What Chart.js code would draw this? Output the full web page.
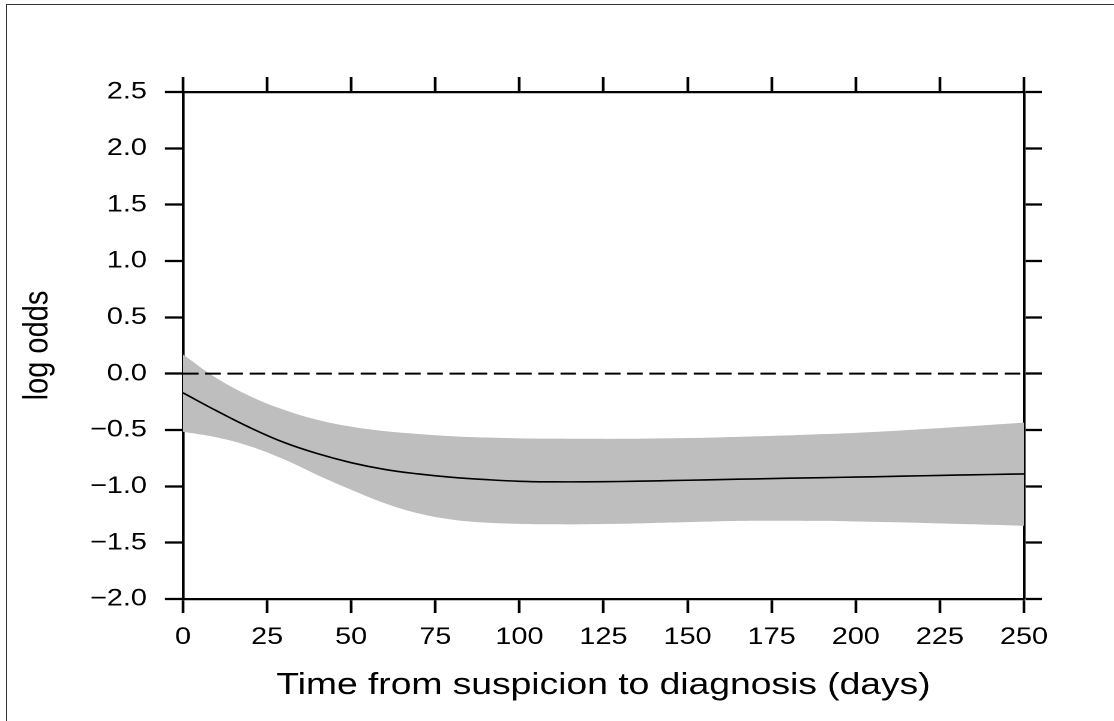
<!DOCTYPE html>
<html>
<head>
<meta charset="utf-8">
<script src="https://cdn.jsdelivr.net/npm/chart.js@4.4.1/dist/chart.umd.min.js"></script>
<style>
  html, body { margin: 0; padding: 0; background: #fff; overflow: hidden; }
  #wrap { position: absolute; left: 0; top: 0; width: 928px; height: 721px;
          transform: scaleX(1.20043); transform-origin: 0 0; }
  #frame { position: absolute; left: 6px; top: 4px; width: 1107px; height: 730px;
           border-top: 1px solid #333; border-left: 1px solid #333; }
</style>
</head>
<body>
<div id="wrap"><canvas id="chart" width="928" height="721"></canvas></div>
<div id="frame"></div>
<script>
// valores, cada 10 dias
const dias = [0, 10, 20, 30, 40, 50, 60, 70, 80, 90, 100, 110, 120, 130, 140, 150, 160, 170, 180, 190, 200, 210, 220, 230, 240, 250];
const ajuste = [-0.17, -0.33, -0.48, -0.61, -0.71, -0.79, -0.85, -0.89, -0.92, -0.94, -0.955, -0.96, -0.96, -0.957, -0.952, -0.946, -0.94, -0.934, -0.928, -0.923, -0.918, -0.912, -0.906, -0.90, -0.895, -0.89];
const superior = [0.17, -0.04, -0.20, -0.32, -0.41, -0.47, -0.51, -0.535, -0.555, -0.567, -0.574, -0.577, -0.578, -0.578, -0.575, -0.571, -0.565, -0.557, -0.548, -0.537, -0.525, -0.51, -0.492, -0.473, -0.454, -0.435];
const inferior = [-0.515, -0.565, -0.645, -0.76, -0.90, -1.03, -1.15, -1.24, -1.295, -1.322, -1.333, -1.337, -1.336, -1.332, -1.325, -1.318, -1.31, -1.306, -1.305, -1.307, -1.312, -1.318, -1.325, -1.333, -1.341, -1.35];
const refX = [0, 250];
const refY = [0, 0];
const xTicks = [0, 25, 50, 75, 100, 125, 150, 175, 200, 225, 250];
const yTicks = [-2.0, -1.5, -1.0, -0.5, 0.0, 0.5, 1.0, 1.5, 2.0, 2.5];

const F = "'Liberation Sans', Arial, sans-serif";
const pts = (xs, ys) => xs.map((x, i) => ({ x: x, y: ys[i] }));
const negro = '#000';

// ejes con marcas hacia afuera en los cuatro lados
const marcas = (len, extra) => Object.assign({
  type: 'linear', z: 1,
  grid: { drawOnChartArea: false, drawTicks: true, tickLength: len, tickWidth: 2.3, tickColor: negro },
  border: { display: true, color: negro, width: 2.3 }
}, extra);

new Chart(document.getElementById('chart'), {
  type: 'line',
  data: {
    datasets: [
      { data: pts(dias, ajuste), order: 0, borderColor: negro, borderWidth: 1.6,
        pointRadius: 0, tension: 0.4, fill: false },
      { data: pts(refX, refY), order: 1, borderColor: negro, borderWidth: 2,
        borderDash: [13, 5.5], pointRadius: 0, fill: false },
      { data: pts(dias, superior), order: 2, borderColor: 'rgba(0,0,0,0)', borderWidth: 0,
        backgroundColor: '#bebebe', pointRadius: 0, tension: 0.4, fill: '+1' },
      { data: pts(dias, inferior), order: 3, borderColor: 'rgba(0,0,0,0)', borderWidth: 0,
        pointRadius: 0, tension: 0.4, fill: false }
    ]
  },
  options: {
    responsive: false,
    animation: false,
    devicePixelRatio: 2,
    layout: { padding: 0 },
    plugins: { legend: { display: false }, tooltip: { enabled: false } },
    scales: {
      x: marcas(14, {
        position: 'bottom', min: 0, max: 250,
        afterBuildTicks: s => { s.ticks = xTicks.map(v => ({ value: v })); },
        afterFit: s => { s.height = 122; },
        ticks: { color: negro, font: { family: F, size: 24 }, padding: 10, maxRotation: 0, autoSkip: false },
        title: { display: true, text: 'Time from suspicion to diagnosis (days)', color: negro,
                 font: { family: F, size: 31 }, padding: { top: 0, bottom: 17 } }
      }),
      x2: marcas(15, {
        position: 'top', min: 0, max: 250,
        afterBuildTicks: s => { s.ticks = xTicks.map(v => ({ value: v })); },
        afterFit: s => { s.height = 92; },
        ticks: { display: false }
      }),
      y: marcas(15, {
        position: 'left', min: -2, max: 2.5,
        afterBuildTicks: s => { s.ticks = yTicks.map(v => ({ value: v })); },
        afterFit: s => { s.width = 152.4; },
        ticks: { color: negro, font: { family: F, size: 24 }, padding: 15, autoSkip: false,
                 callback: v => (v < 0 ? '\u2212' : '') + Math.abs(v).toFixed(1) },
        title: { display: true, text: 'log odds', color: negro,
                 font: { family: F, size: 29 }, padding: { top: 14, bottom: 0 } }
      }),
      y2: marcas(15, {
        position: 'right', min: -2, max: 2.5,
        afterBuildTicks: s => { s.ticks = yTicks.map(v => ({ value: v })); },
        afterFit: s => { s.width = 75; },
        ticks: { display: false }
      })
    }
  }
});
</script>
</body>
</html>
